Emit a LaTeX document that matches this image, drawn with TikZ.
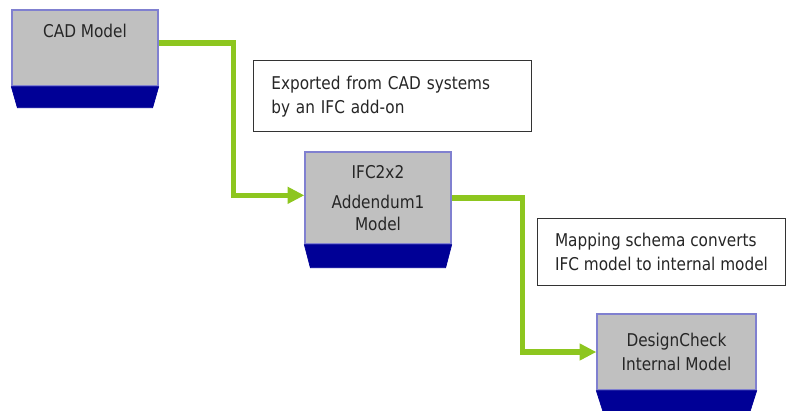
\documentclass[tikz,border=0pt]{standalone}
\usepackage{fontspec}
\setmainfont{DejaVu Sans}[FakeStretch=0.87]
\usetikzlibrary{arrows.meta}
\definecolor{limeline}{RGB}{141,198,31}
\definecolor{boxgray}{RGB}{192,192,192}
\definecolor{boxedge}{RGB}{128,128,208}
\definecolor{basenavy}{RGB}{0,0,150}

\begin{document}
\begin{tikzpicture}[
  x=0.75pt, y=-0.75pt,
  every node/.style={font=\fontsize{13.2}{18}\selectfont, text=black!85},
  mbox/.style={draw=boxedge, fill=boxgray, line width=1pt, align=center, minimum height=57pt},
  mbase/.style={fill=basenavy, draw=basenavy, line width=0.5pt},
  note/.style={draw=black!80, fill=white, line width=1pt, align=left, anchor=north west, inner xsep=13pt},
  ar/.style={-{Triangle[length=12.5pt, width=12pt]}, draw=limeline, line width=3.8pt}]

\useasboundingbox (0,0) rectangle (795,410);

% ---------------- model boxes ----------------
\node[mbox, minimum width=109.5pt, inner ysep=0pt, text height=21pt, text depth=36pt] (cad) at (85, 48) {CAD Model};
\node[mbox, minimum width=109.5pt, minimum height=69pt] (ifc) at (378, 198) {IFC2x2\\[5pt] Addendum1\\[-1.5pt] Model};
\node[mbox, minimum width=119.25pt] (dcheck) at (676.5, 352) {DesignCheck\\[-0.5pt] Internal Model};

% ---------------- navy bases ----------------
\draw[mbase] (cad.south west) -- (cad.south east) -- ([shift={(-6,21)}]cad.south east) -- ([shift={(6,21)}]cad.south west) -- cycle;
\draw[mbase] (ifc.south west) -- (ifc.south east) -- ([shift={(-6,23)}]ifc.south east) -- ([shift={(6,23)}]ifc.south west) -- cycle;
\draw[mbase] (dcheck.south west) -- (dcheck.south east) -- ([shift={(-7,22)}]dcheck.south east) -- ([shift={(7,22)}]dcheck.south west) -- cycle;

% ---------------- notes ----------------
\node[note, minimum width=208.5pt, minimum height=53.25pt, text width=182pt] (exp) at (253, 60) {Exported from CAD systems\\ by an IFC add-on};
\node[note, minimum height=50.25pt, inner xsep=13pt] (map) at (537, 218) {Mapping schema converts\\ IFC model to internal model};

% ---------------- green connectors ----------------
\draw[ar] ([yshift=3.75pt]cad.east) -- ++(75,0) |- ([yshift=2pt]ifc.west);
\draw[ar] (ifc.east) -- ++(71,0) |- (dcheck.west);
\end{tikzpicture}
\end{document}
